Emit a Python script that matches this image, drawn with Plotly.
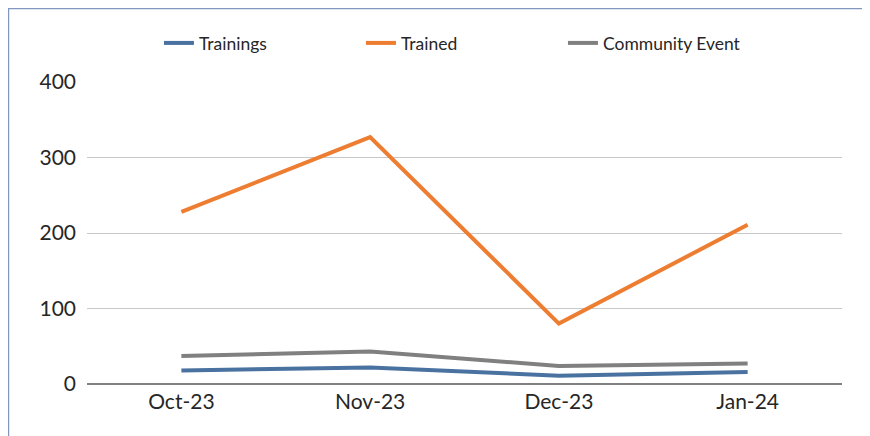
import plotly.graph_objects as go

months = ["Oct-23", "Nov-23", "Dec-23", "Jan-24"]
trainings = [18, 22, 11, 16]
trained = [228, 327, 80, 211]
community_event = [37, 43, 24, 27]

series_names = ["Trainings", "Trained", "Community Event"]
colors = ["#4a72a0", "#ed7d31", "#808080"]

fig = go.Figure()
for name, vals, col in zip(series_names, [trainings, trained, community_event], colors):
    fig.add_trace(go.Scatter(
        x=months, y=vals, name=name, mode="lines",
        line=dict(color=col, width=4),
    ))

# page body adds an 8px offset, so margins are shifted to compensate
fig.update_layout(
    width=870, height=436,
    margin=dict(l=79, r=36, t=74, b=60),
    paper_bgcolor="white", plot_bgcolor="white",
    font=dict(family="Lato", color="#262626", size=21),
    showlegend=True,
    legend=dict(
        orientation="h", x=0.0953, xanchor="left", y=1.129, yanchor="middle",
        font=dict(size=17.5), entrywidth=157,
        bgcolor="rgba(0,0,0,0)",
    ),
    xaxis=dict(
        range=[-0.5, 3.5], showgrid=False, ticks="", showline=False,
        ticklabelstandoff=3,
    ),
    yaxis=dict(
        range=[0, 400], tickvals=[0, 100, 200, 300, 400],
        gridcolor="#c8c8c8", gridwidth=1,
        zeroline=True, zerolinecolor="#808080", zerolinewidth=2,
        ticks="", ticklabelstandoff=10,
    ),
    shapes=[
        dict(type="path", xref="paper", yref="paper",
             path="M -0.104,-0.3 L -0.104,1.243 L 1.1,1.243",
             line=dict(color="#8197bd", width=1.5)),
    ],
)

fig.write_html("out.html")
